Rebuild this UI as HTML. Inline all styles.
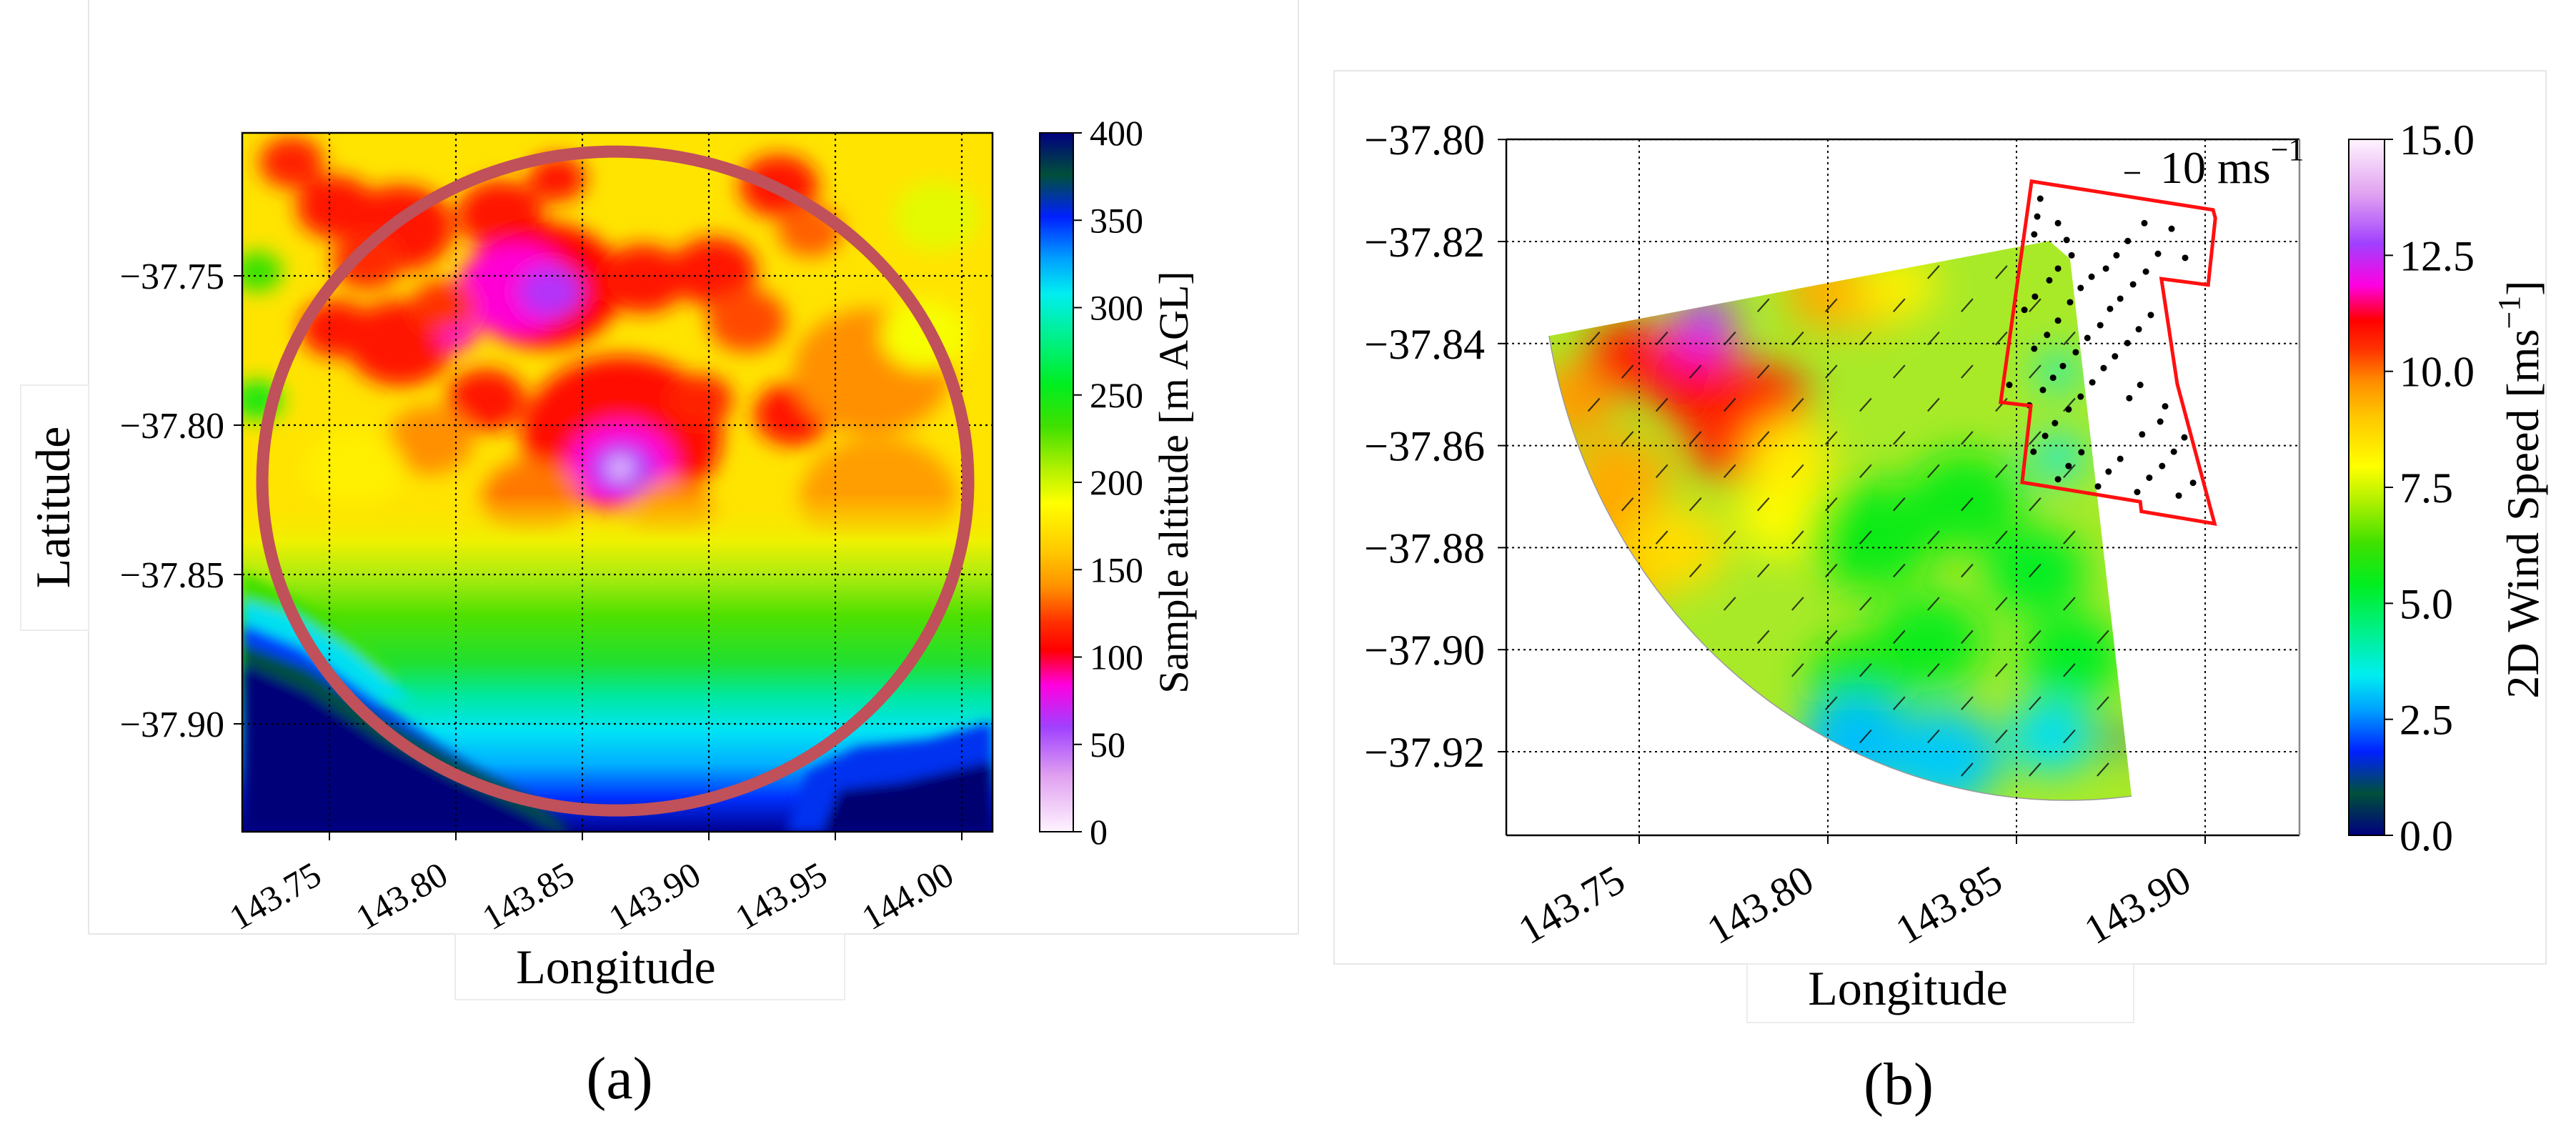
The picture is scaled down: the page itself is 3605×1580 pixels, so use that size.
<!DOCTYPE html>
<html><head><meta charset="utf-8"><style>
html,body{margin:0;padding:0;background:#fff;}
svg{display:block;font-family:"Liberation Serif",serif;}
</style></head><body>
<svg id="fig" width="3605" height="1580" viewBox="0 0 3605 1580" xmlns="http://www.w3.org/2000/svg">
<defs>
  <clipPath id="clipA"><rect x="339" y="186" width="1050" height="978"/></clipPath>
  <clipPath id="clipB"><path id="wedgeClipPath" d=""/></clipPath>
  <filter id="blurA" x="-50%" y="-50%" width="200%" height="200%"><feGaussianBlur stdDeviation="14"/></filter>
  <filter id="blurBand" x="-20%" y="-20%" width="140%" height="140%"><feGaussianBlur stdDeviation="8"/></filter>
  <filter id="blurB" x="-50%" y="-50%" width="200%" height="200%"><feGaussianBlur stdDeviation="28"/></filter>
  <linearGradient id="bottomGrad" gradientUnits="userSpaceOnUse" x1="0" y1="690" x2="0" y2="1164">
    <stop offset="0" stop-color="#ffe000" stop-opacity="0"/>
    <stop offset="0.14" stop-color="#f0f000"/>
    <stop offset="0.24" stop-color="#b0ec10"/>
    <stop offset="0.36" stop-color="#50e000"/>
    <stop offset="0.5" stop-color="#20e030"/>
    <stop offset="0.6" stop-color="#00e8a0"/>
    <stop offset="0.7" stop-color="#00e4f4"/>
    <stop offset="0.8" stop-color="#00b0ff"/>
    <stop offset="0.9" stop-color="#0030ff"/>
    <stop offset="1" stop-color="#000090"/>
  </linearGradient>
  <linearGradient id="cbGradA" x1="0" y1="0" x2="0" y2="1"></linearGradient>
  <linearGradient id="cbGradB" x1="0" y1="1" x2="0" y2="0"></linearGradient>
</defs>

<g stroke="#e6e6e6" stroke-width="2" fill="none">
  <line x1="124" y1="0" x2="124" y2="1307"/>
  <line x1="124" y1="1307" x2="637" y2="1307"/>
  <line x1="1182" y1="1307" x2="1817" y2="1307"/>
  <line x1="1817" y1="0" x2="1817" y2="1307"/>
</g>
<rect x="1867" y="99" width="1696" height="1250" fill="#fff" stroke="#e6e6e6" stroke-width="2"/>

<g id="heatA" clip-path="url(#clipA)">
  <rect x="339" y="186" width="1050" height="978" fill="#ffe400"/>
  <g id="blobsA" filter="url(#blurA)"></g>
  <rect x="339" y="690" width="1050" height="474" fill="url(#bottomGrad)"/>
  <g filter="url(#blurBand)">
    <polygon points="339,800 400,830 480,880 560,950 339,950" fill="#40e000"/>
    <polygon points="339,840 410,860 490,910 580,980 339,980" fill="#00e0f0"/>
    <polygon points="339,872 420,905 520,975 620,1045 710,1100 339,1110" fill="#0040ff"/>
    <polygon points="339,900 430,935 530,1000 640,1062 740,1115 800,1164 339,1164" fill="#005040"/>
    <polygon points="339,928 430,968 530,1035 640,1092 740,1140 780,1164 339,1164" fill="#000078"/>
    <polygon points="1100,1164 1130,1080 1200,1045 1300,1035 1389,1010 1389,1164" fill="#0030f0"/>
    <polygon points="1150,1164 1175,1105 1260,1095 1389,1065 1389,1164" fill="#000070"/>
  </g>
</g>
<g id="gridA"></g>
<ellipse id="circleA" fill="none" stroke="#c0505a" stroke-width="17"/>
<rect x="339" y="186" width="1050" height="978" fill="none" stroke="#000" stroke-width="2.5"/>
<g id="axesA"></g>
<rect x="1455" y="186" width="47" height="978" fill="url(#cbGradA)" stroke="#000" stroke-width="2"/>
<g id="cbAxisA"></g>
<text transform="translate(1662,675) rotate(-90)" text-anchor="middle" font-size="58">Sample altitude [m AGL]</text>
<rect x="29" y="539" width="95" height="343" fill="#fff" stroke="#ececec" stroke-width="2"/>
<text transform="translate(97,710) rotate(-90)" text-anchor="middle" font-size="68">Latitude</text>
<rect x="637" y="1307" width="545" height="92" fill="#fff" stroke="#ececec" stroke-width="2"/>
<text x="862" y="1376" text-anchor="middle" font-size="68">Longitude</text>
<text x="867" y="1537" text-anchor="middle" font-size="84">(a)</text>

<g id="heatB" clip-path="url(#clipB)">
  <rect x="2100" y="300" width="1000" height="900" fill="#a8ea28"/>
  <g id="blobsB" filter="url(#blurB)"></g>
</g>
<path id="wedgeEdge" fill="none" stroke="#9a9a9a" stroke-width="1.5"/>
<g id="gridBover"></g>
<g id="barbs"></g>
<g id="dots"></g>
<polygon id="farmOutline" fill="none" stroke="#ff1010" stroke-width="5" stroke-linejoin="miter"/>
<g stroke-width="2.5" fill="none">
  <line x1="2108" y1="195" x2="3218" y2="195" stroke="#000"/>
  <line x1="2108" y1="195" x2="2108" y2="1169" stroke="#000"/>
  <line x1="2108" y1="1169" x2="3218" y2="1169" stroke="#000"/>
  <line x1="3218" y1="195" x2="3218" y2="1169" stroke="#888"/>
</g>
<g id="axesB"></g>
<g>
  <line x1="2973" y1="242" x2="2995" y2="242" stroke="#000" stroke-width="2.5"/>
  <text x="3023" y="256" font-size="64">10 ms<tspan font-size="44" dy="-32">−1</tspan></text>
</g>
<rect x="3287" y="195" width="50" height="974" fill="url(#cbGradB)" stroke="#000" stroke-width="2"/>
<g id="cbAxisB"></g>
<text transform="translate(3552,685) rotate(-90)" text-anchor="middle" font-size="64">2D Wind Speed [ms<tspan font-size="44" dy="-26">−1</tspan><tspan dy="26">]</tspan></text>
<rect x="2445" y="1349" width="541" height="82" fill="#fff" stroke="#ececec" stroke-width="2"/>
<text x="2670" y="1406" text-anchor="middle" font-size="68">Longitude</text>
<text x="2657" y="1545" text-anchor="middle" font-size="84">(b)</text>
</svg>
<script>
// ---------------- data ----------------
const lonTicksA = [143.75, 143.80, 143.85, 143.90, 143.95, 144.00];
const latTicksA = [-37.75, -37.80, -37.85, -37.90];
const altTicks = [0, 50, 100, 150, 200, 250, 300, 350, 400];
const lonTicksB = [143.75, 143.80, 143.85, 143.90];
const latTicksB = [-37.80, -37.82, -37.84, -37.86, -37.88, -37.90, -37.92];
const windTicks = [0.0, 2.5, 5.0, 7.5, 10.0, 12.5, 15.0];

// altitude blobs (panel a)
const blobLonA = [143.7525,143.778,143.8175,143.840,143.9277,143.902,143.778,143.7525,143.8345,143.874,143.8655,143.9333,143.8119,143.8966,143.8232,143.8006,143.8655,143.8373,143.8655,143.865,143.9644,143.967,143.7215,143.7215,143.9868,143.735,143.765,143.795,143.915,143.940,143.790,143.830,143.885,143.990,143.985,143.760];
const blobLatA = [-37.727,-37.734,-37.7295,-37.7175,-37.720,-37.7486,-37.7725,-37.7677,-37.7533,-37.751,-37.8036,-37.7964,-37.7916,-37.7916,-37.7545,-37.7689,-37.8132,-37.7553,-37.8144,-37.8144,-37.782,-37.8251,-37.7916,-37.7486,-37.8538,-37.712,-37.745,-37.760,-37.765,-37.735,-37.805,-37.825,-37.830,-37.730,-37.770,-37.815];
const blobAltA = [110,110,110,110,110,110,110,110,105,110,108,112,110,115,85,85,85,65,62,15,140,145,245,235,215,115,118,120,125,130,140,135,140,195,190,180];
const blobRA   = [55,75,60,40,55,60,75,50,110,60,140,55,55,45,80,28,75,45,45,18,110,110,35,35,40,45,50,45,55,45,60,70,60,60,60,70];

// wind blobs (panel b)
const blobLonB = [143.7322,143.7379,143.7473,143.7473,143.7663,143.7833,143.7739,143.7663,143.7682,143.8004,143.8117,143.789,143.8193,143.8117,143.8364,143.8553,143.8269,143.8648,143.808,143.808,143.8307,143.8591,143.861,143.861,143.8771,143.745,143.760,143.790];
const blobLatB = [-37.8511,-37.8735,-37.8847,-37.8427,-37.8483,-37.8511,-37.8595,-37.8385,-37.8343,-37.8301,-37.8315,-37.8735,-37.8287,-37.8777,-37.8707,-37.8847,-37.8987,-37.9015,-37.9057,-37.9183,-37.9211,-37.917,-37.8455,-37.8623,-37.9176,-37.866,-37.880,-37.862];
const blobWindB = [9.6,9.4,9.2,10.8,10.9,10.7,10.6,12.0,12.8,9.4,9.0,8.0,8.2,5.6,5.6,5.4,5.5,5.4,5.7,3.0,3.1,3.3,3.6,3.4,1.5,9.4,8.6,8.3];
const blobRB    = [60,60,60,60,70,60,60,45,35,60,50,70,50,90,80,70,80,70,70,80,80,60,30,35,20,70,70,60];

// turbine locations
const turbLon = [143.8563,143.8555,143.8610,143.8547,143.8633,143.8646,143.8765,143.8610,143.8737,143.8699,143.8587,143.8670,143.8549,143.8775,143.8642,143.8748,143.8521,143.8610,143.8722,143.8581,143.8688,143.8547,143.8657,143.8761,143.8623,143.8731,143.8597,143.8701,143.8481,143.8570,143.8670,143.8638,143.8534,143.8602,143.8576,143.8545,143.8672,143.8775,143.8638,143.8744,143.8610,143.8716,143.8839,143.8911,143.8795,143.8875,143.8947,143.8843,143.8809,143.8856,143.8824,143.8794,143.8828,143.8799,143.8894,143.8881,143.8833,143.8945,143.8917,143.8886,143.8852,143.8968,143.8820,143.8930];
const turbLat = [-37.8116,-37.8151,-37.8164,-37.8186,-37.8197,-37.8227,-37.8227,-37.8253,-37.8253,-37.8269,-37.8276,-37.8291,-37.8308,-37.8312,-37.8319,-37.8332,-37.8334,-37.8355,-37.8364,-37.8383,-37.8389,-37.8410,-37.8417,-37.8425,-37.8444,-37.8448,-37.8467,-37.8476,-37.8481,-37.8491,-37.8504,-37.8529,-37.8521,-37.8556,-37.8581,-37.8612,-37.8613,-37.8626,-37.8640,-37.8651,-37.8666,-37.8680,-37.8164,-37.8175,-37.8199,-37.8224,-37.8232,-37.8259,-37.8284,-37.8344,-37.8372,-37.8399,-37.8481,-37.8507,-37.8523,-37.8553,-37.8578,-37.8584,-37.8612,-37.8640,-37.8663,-37.8673,-37.8691,-37.8698];

const farmLon = [143.8540,143.9021,143.9027,143.9008,143.8884,143.8926,143.9025,143.8831,143.8828,143.8515,143.8538,143.8458];
const farmLat = [-37.8082,-37.8138,-37.8154,-37.8285,-37.8273,-37.8479,-37.8753,-37.8729,-37.8710,-37.8672,-37.8522,-37.8515];

const sectorLon = [143.7261,143.8587,143.8642,143.8805];
const sectorLat = [-37.8385,-37.8199,-37.8234,-37.9287];
const radarLon = [143.8650];
const radarLat = [-37.8190];

const quiverLons = [143.720,143.738,143.756,143.774,143.792,143.810,143.828,143.846,143.864,143.882];
const quiverLats = [-37.826,-37.8325,-37.839,-37.8455,-37.852,-37.8585,-37.865,-37.8715,-37.878,-37.8845,-37.891,-37.8975,-37.904,-37.9105,-37.917,-37.9235,-37.93];

const circleLon = [143.863];
const circleLat = [-37.8187];

// ---------------- scales ----------------
const xA = lon => 461 + (lon - 143.75) * 3540;
const yA = lat => 386 + (-37.75 - lat) * 4180;
const cA = v => 1164 - v / 400 * 978;
const xB = lon => 2822 + (lon - 143.85) * 5280;
const yB = lat => 338 + (-37.82 - lat) * 7140;
const cB = v => 1169 - v / 15 * 974;

const NS = 'http://www.w3.org/2000/svg';
function mk(tag, attrs, parent) {
  const e = document.createElementNS(NS, tag);
  for (const k in attrs) e.setAttribute(k, attrs[k]);
  parent.appendChild(e);
  return e;
}

const cmStops = [[0,'#000080'],[0.06,'#00503a'],[0.12,'#0020ff'],[0.18,'#00a0ff'],[0.23,'#00eef0'],[0.3,'#00f080'],[0.36,'#00ee20'],[0.42,'#40e000'],[0.48,'#b0f000'],[0.53,'#ffff00'],[0.6,'#ffc800'],[0.65,'#ff9000'],[0.7,'#ff3000'],[0.74,'#ff0000'],[0.79,'#ff00e0'],[0.85,'#a040ff'],[0.92,'#e0a0f0'],[1,'#fff4ff']];
function hex2rgb(h){return [parseInt(h.slice(1,3),16),parseInt(h.slice(3,5),16),parseInt(h.slice(5,7),16)];}
function cmap(f){
  f=Math.max(0,Math.min(1,f));
  for(let i=1;i<cmStops.length;i++){
    if(f<=cmStops[i][0]){
      const a=cmStops[i-1],b=cmStops[i];const t=(f-a[0])/(b[0]-a[0]);
      const ca=hex2rgb(a[1]),cb=hex2rgb(b[1]);
      return 'rgb('+ca.map((v,j)=>Math.round(v+(cb[j]-v)*t)).join(',')+')';
    }
  }
  return cmStops[cmStops.length-1][1];
}
for (const id of ['cbGradA','cbGradB']) {
  const g=document.getElementById(id);
  cmStops.forEach(s=>{ mk('stop',{offset:s[0],'stop-color':s[1]},g); });
}

// ---------------- panel a ----------------
const blobsA=document.getElementById('blobsA');
blobLonA.forEach((lon,i)=>{
  const e=mk('ellipse',{cx:xA(lon),cy:yA(blobLatA[i]),rx:blobRA[i],ry:blobRA[i]*0.8,fill:cmap(1-blobAltA[i]/400)},blobsA);
  
  
});
const gridA=document.getElementById('gridA');
lonTicksA.forEach(v=>{
  const l=mk('line',{x1:xA(v),x2:xA(v),y1:186,y2:1164,stroke:'#000','stroke-width':2.2,'stroke-dasharray':'3 5'},gridA);
  
  
});
latTicksA.forEach(v=>{
  const l=mk('line',{x1:339,x2:1389,y1:yA(v),y2:yA(v),stroke:'#000','stroke-width':2.2,'stroke-dasharray':'3 5'},gridA);
  
  
});
const circ=document.getElementById('circleA');
circ.setAttribute('cx',xA(circleLon[0]));
circ.setAttribute('cy',yA(circleLat[0]));
circ.setAttribute('rx',494);
circ.setAttribute('ry',461);
const axesA=document.getElementById('axesA');
lonTicksA.forEach(v=>{
  const x=xA(v);
  const t=mk('line',{x1:x,x2:x,y1:1164,y2:1176,stroke:'#000','stroke-width':2},axesA);
  
  
  const tx=mk('text',{transform:`translate(${x-8},1234) rotate(-30)`,'text-anchor':'end','font-size':50},axesA);
  tx.textContent=v.toFixed(2);
  
  
});
latTicksA.forEach(v=>{
  const y=yA(v);
  const t=mk('line',{x1:327,x2:339,y1:y,y2:y,stroke:'#000','stroke-width':2},axesA);
  
  
  const tx=mk('text',{x:314,y:y+18,'text-anchor':'end','font-size':52},axesA);
  tx.textContent='−'+Math.abs(v).toFixed(2);
  
  
});
const cbAxisA=document.getElementById('cbAxisA');
altTicks.forEach(v=>{
  const y=cA(v);
  const t=mk('line',{x1:1502,x2:1514,y1:y,y2:y,stroke:'#000','stroke-width':2},cbAxisA);
  
  
  const tx=mk('text',{x:1525,y:y+17,'font-size':50},cbAxisA);
  tx.textContent=String(v);
  
  
});

// ---------------- panel b ----------------
const cx=xB(radarLon[0]), cy=yB(radarLat[0]);
const sx=sectorLon.map(xB), sy=sectorLat.map(yB);
const wedgeD=`M${sx[0]},${sy[0]} L${sx[1]},${sy[1]} L${sx[2]},${sy[2]} L${sx[3]},${sy[3]} A737,788 0 0 1 ${sx[0]},${sy[0]} Z`;
document.getElementById('wedgeClipPath').setAttribute('d',wedgeD);
document.getElementById('wedgeEdge').setAttribute('d',`M${sx[3]},${sy[3]} A737,788 0 0 1 ${sx[0]},${sy[0]}`);

const blobsB=document.getElementById('blobsB');
blobLonB.forEach((lon,i)=>{
  const e=mk('ellipse',{cx:xB(lon),cy:yB(blobLatB[i]),rx:blobRB[i],ry:blobRB[i]*0.85,fill:cmap(blobWindB[i]/15)},blobsB);
  
  
});
const gridB=document.getElementById('gridBover');
lonTicksB.forEach(v=>{
  const l=mk('line',{x1:xB(v),x2:xB(v),y1:195,y2:1169,stroke:'#000','stroke-width':2,'stroke-dasharray':'3 5'},gridB);
  
  
});
latTicksB.forEach(v=>{
  const l=mk('line',{x1:2108,x2:3218,y1:yB(v),y2:yB(v),stroke:'#000','stroke-width':2,'stroke-dasharray':'3 5'},gridB);
  
  
});

function inWedge(x,y){
  const dx=(x-cx)/737, dy=(y-cy)/788;
  if(dx*dx+dy*dy>0.97) return false;
  const yl=sy[0]+(x-sx[0])*(sy[1]-sy[0])/(sx[1]-sx[0]);
  if(y<yl+12) return false;
  const xl=sx[2]+(y-sy[2])*(sx[3]-sx[2])/(sy[3]-sy[2]);
  if(x>xl-10) return false;
  return true;
}
const barbs=document.getElementById('barbs');
quiverLats.forEach((lat,r)=>{
  quiverLons.forEach(lon=>{
    const x=xB(lon)+(r%2)*47, y=yB(lat);
    if(!inWedge(x,y)) return;
    const b=mk('line',{x1:x-8,y1:y+9,x2:x+8,y2:y-9,stroke:'#111','stroke-width':2.2,opacity:0.8},barbs);
    
    
  });
});
const dots=document.getElementById('dots');
turbLon.forEach((lon,i)=>{
  const d=mk('circle',{cx:xB(lon),cy:yB(turbLat[i]),r:4.5,fill:'#000'},dots);
  
  
});
document.getElementById('farmOutline').setAttribute('points',farmLon.map((lon,i)=>xB(lon)+','+yB(farmLat[i])).join(' '));

const axesB=document.getElementById('axesB');
lonTicksB.forEach(v=>{
  const x=xB(v);
  const t=mk('line',{x1:x,x2:x,y1:1169,y2:1181,stroke:'#000','stroke-width':2},axesB);
  
  
  const tx=mk('text',{transform:`translate(${x-16},1243) rotate(-30)`,'text-anchor':'end','font-size':58},axesB);
  tx.textContent=v.toFixed(2);
  
  
});
latTicksB.forEach(v=>{
  const y=yB(v);
  const t=mk('line',{x1:2096,x2:2108,y1:y,y2:y,stroke:'#000','stroke-width':2},axesB);
  
  
  const tx=mk('text',{x:2078,y:y+21,'text-anchor':'end','font-size':60},axesB);
  tx.textContent='−'+Math.abs(v).toFixed(2);
  
  
});
const cbAxisB=document.getElementById('cbAxisB');
windTicks.forEach(v=>{
  const y=cB(v);
  const t=mk('line',{x1:3337,x2:3349,y1:y,y2:y,stroke:'#000','stroke-width':2},cbAxisB);
  
  
  const tx=mk('text',{x:3358,y:y+21,'font-size':60},cbAxisB);
  tx.textContent=v.toFixed(1);
  
  
});
</script>
</body></html>
